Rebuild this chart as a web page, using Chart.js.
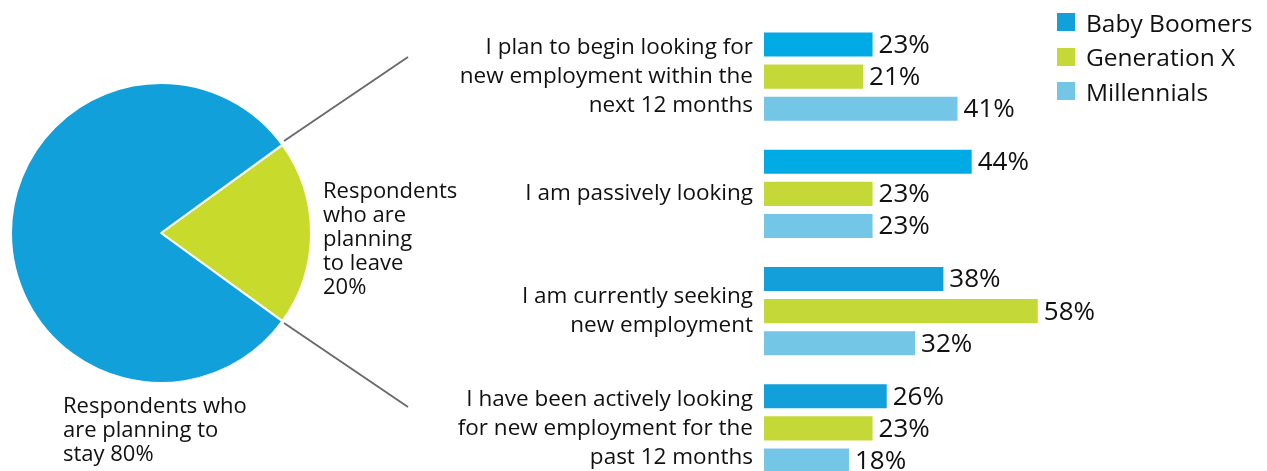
<!DOCTYPE html>
<html>
<head>
<meta charset="utf-8">
<script src="https://cdn.jsdelivr.net/npm/chart.js@4"></script>
<style>
  html, body { margin:0; padding:0; width:1267px; height:471px; overflow:hidden; background:#fff; font-family:"Open Sans", sans-serif; color:#111; }
  #pieWrap { position:absolute; left:0; top:0; width:322px; height:466px; }
  #barWrap { position:absolute; left:400px; top:0; width:867px; height:500px; }
  #lines { position:absolute; left:0; top:0; }
  .lbl { position:absolute; font-size:22px; line-height:24px; white-space:nowrap; }
  .legend { position:absolute; left:1057px; top:5px; font-size:24.5px; }
  .legend div { height:34.5px; display:flex; align-items:center; }
  .legend span.sw { display:inline-block; width:18px; height:18px; margin-right:11px; }
</style>
</head>
<body>
<canvas id="lines" width="1267" height="471"></canvas>
<div id="pieWrap"><canvas id="pie"></canvas></div>
<div id="barWrap"><canvas id="bar"></canvas></div>
<div class="lbl" style="left:323px; top:177px;">Respondents<br>who are<br>planning<br>to leave<br>20%</div>
<div class="lbl" style="left:63px; top:392px;">Respondents who<br>are planning to<br>stay 80%</div>
<div class="legend" id="legend"></div>
<script>
// ---- data ----
const pieLabels = ["Respondents who are planning to leave", "Respondents who are planning to stay"];
const pieValues = [20, 80];

const categories = [
  ["I plan to begin looking for", "new employment within the", "next 12 months"],
  ["I am passively looking"],
  ["I am currently seeking", "new employment"],
  ["I have been actively looking", "for new employment for the", "past 12 months"]
];
const seriesNames = ["Baby Boomers", "Generation X", "Millennials"];
const babyBoomers = [23, 44, 38, 26];
const generationX = [21, 23, 58, 23];
const millennials = [41, 23, 32, 18];

// ---- colours ----
const pieColors = ["#C8DA2C", "#12A0DA"];
const bbColors = ["#00AAE4", "#00AAE4", "#129FDA", "#129FDA"];
const gxColor = "#C4D838";
const miColor = "#74C6E6";
const legendColors = ["#129FDA", "#C4D838", "#74C6E6"];

// connector lines
(function(){
  const c = document.getElementById('lines').getContext('2d');
  c.strokeStyle = '#6b6b6b';
  c.lineWidth = 2;
  c.beginPath(); c.moveTo(284, 141); c.lineTo(408, 57); c.stroke();
  c.beginPath(); c.moveTo(284, 323); c.lineTo(408, 407); c.stroke();
})();

// legend
const lg = document.getElementById('legend');
seriesNames.forEach((n, i) => {
  const d = document.createElement('div');
  d.innerHTML = '<span class="sw" style="background:' + legendColors[i] + '"></span>' + n;
  lg.appendChild(d);
});

new Chart(document.getElementById('pie'), {
  type: 'pie',
  data: { labels: pieLabels, datasets: [{ data: pieValues, backgroundColor: pieColors, borderColor: '#ffffff', borderWidth: 2 }] },
  options: {
    responsive: true, maintainAspectRatio: false, animation: false,
    rotation: 54, radius: 150,
    plugins: { legend: { display: false }, tooltip: { enabled: false } }
  }
});

const valueLabels = {
  id: 'valueLabels',
  afterDatasetsDraw(chart) {
    const ctx = chart.ctx;
    ctx.save();
    ctx.font = '26px "Open Sans"';
    ctx.fillStyle = '#111';
    ctx.textAlign = 'left';
    ctx.textBaseline = 'middle';
    chart.data.datasets.forEach((ds, di) => {
      chart.getDatasetMeta(di).data.forEach((bar, i) => {
        ctx.fillText(ds.data[i] + '%', bar.x + 6, bar.y + 1);
      });
    });
    ctx.restore();
  }
};

new Chart(document.getElementById('bar'), {
  type: 'bar',
  data: {
    labels: categories,
    datasets: [
      { label: seriesNames[0], data: babyBoomers, backgroundColor: bbColors },
      { label: seriesNames[1], data: generationX, backgroundColor: gxColor },
      { label: seriesNames[2], data: millennials, backgroundColor: miColor }
    ]
  },
  options: {
    indexAxis: 'y',
    responsive: true, maintainAspectRatio: false, animation: false,
    layout: { padding: { top: 18, bottom: 13, right: 31, left: 0 } },
    datasets: { bar: { categoryPercentage: 0.82, barPercentage: 0.75 } },
    scales: {
      x: { display: false, min: 0, max: 100 },
      y: {
        grid: { display: false, drawTicks: false }, border: { display: false },
        afterFit(scale) { scale.width = 364; scale.paddingTop = 0; scale.paddingBottom = 0; },
        ticks: { color: '#111', padding: 11, font: { family: '"Open Sans"', size: 22.5, lineHeight: 1.3 } }
      }
    },
    plugins: { legend: { display: false }, tooltip: { enabled: false } }
  },
  plugins: [valueLabels]
});
</script>
</body>
</html>
